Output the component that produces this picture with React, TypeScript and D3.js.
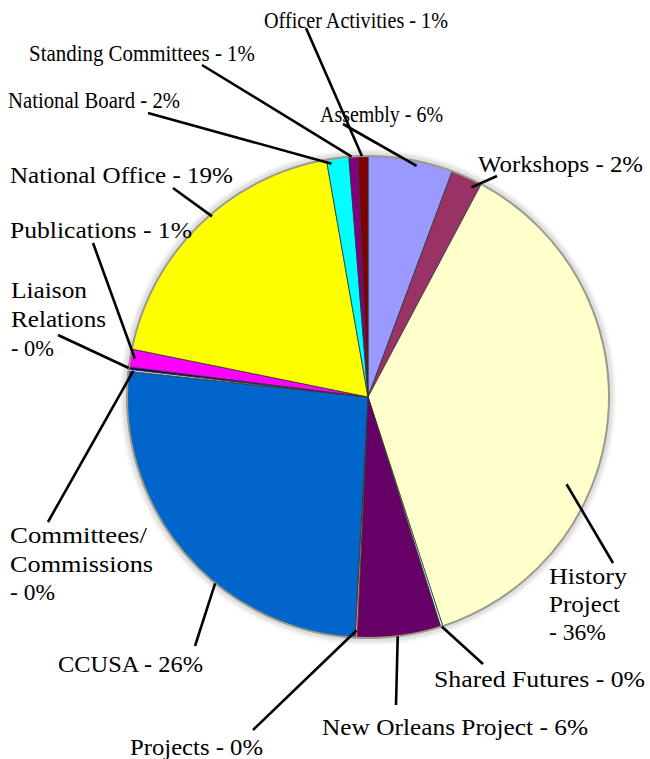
import React from "react";
import * as d3 from "d3";

const categories = [
  "Assembly",
  "Workshops",
  "History Project",
  "Shared Futures",
  "New Orleans Project",
  "Projects",
  "CCUSA",
  "Committees/Commissions",
  "Liaison Relations",
  "Publications",
  "National Office",
  "National Board",
  "Standing Committees",
  "Officer Activities",
];
const values = [5.7, 2.1, 37.3, 0.15, 5.6, 0.15, 25.9, 0.15, 0.15, 1.2, 19.1, 1.5, 0.6, 0.67];
const pctLabels = ["6%", "2%", "36%", "0%", "6%", "0%", "26%", "0%", "0%", "1%", "19%", "2%", "1%", "1%"];
const colors = [
  "#9999FF", "#993366", "#FFFFCC", "#CCFFFF", "#660066", "#FF8080", "#0066CC",
  "#CCCCFF", "#000080", "#FF00FF", "#FFFF00", "#00FFFF", "#800080", "#800000",
];

// label layout: text lines, x, baselines, line widths, leader start, leader end (fraction along slice, radius factor)
const labelLayout = [
  { lines: ["Assembly - 6%"], x: 320, ys: [122], ws: [123], sx: 343, sy: 124, t: 0.58, k: 0.98 },
  { lines: ["Workshops - 2%"], x: 478, ys: [172], ws: [165], sx: 497, sy: 176, t: 0.77, k: 0.97 },
  { lines: ["History", "Project", "- 36%"], x: 549, ys: [584, 612, 640], ws: [78, 71, 57], sx: 613, sy: 563, t: 0.64, k: 0.9 },
  { lines: ["Shared Futures - 0%"], x: 434, ys: [687], ws: [211], sx: 483, sy: 664, t: 0.5, k: 1.0 },
  { lines: ["New Orleans Project - 6%"], x: 322, ys: [735], ws: [266], sx: 396, sy: 705, t: 0.52, k: 1.0 },
  { lines: ["Projects - 0%"], x: 130, ys: [755], ws: [133], sx: 253, sy: 730, t: 0.5, k: 0.97 },
  { lines: ["CCUSA - 26%"], x: 58, ys: [672], ws: [145], sx: 195, sy: 646, t: 0.39, k: 1.0 },
  { lines: ["Committees/", "Commissions", "- 0%"], x: 10, ys: [543, 572, 600], ws: [137, 143, 45], sx: 48, sy: 522, t: 0.5, k: 0.98 },
  { lines: ["Liaison", "Relations", "- 0%"], x: 11, ys: [298, 327, 356], ws: [76, 95, 43], sx: 58, sy: 335, t: 0.5, k: 1.0 },
  { lines: ["Publications - 1%"], x: 10, ys: [238], ws: [182], sx: 93, sy: 243, t: 0.5, k: 0.98 },
  { lines: ["National Office - 19%"], x: 10, ys: [183], ws: [223], sx: 173, sy: 188, t: 0.55, k: 0.99 },
  { lines: ["National Board - 2%"], x: 8, ys: [108], ws: [172], sx: 148, sy: 113, t: 0.2, k: 0.98 },
  { lines: ["Standing Committees - 1%"], x: 29, ys: [61], ws: [226], sx: 202, sy: 65, t: 0.3, k: 1.0 },
  { lines: ["Officer Activities - 1%"], x: 264, ys: [28], ws: [184], sx: 306, sy: 28, t: 0.4, k: 1.0 },
];

const W = 650;
const H = 759;
const cx = 368;
const cy = 397;
const R = 241;
const FONT = "'Liberation Serif'";

export default function App() {
  const data = categories.map((c, i) => ({ name: c, value: values[i], color: colors[i], pct: pctLabels[i] }));
  const pie = d3
    .pie<any>()
    .sort(null)
    .value((d: any) => d.value)
    .startAngle(0)
    .endAngle(2 * Math.PI);
  const arcs = pie(data);
  const arc = d3.arc<any>().innerRadius(0).outerRadius(R);

  return (
    <svg
      width={W}
      height={H}
      style={{ position: "absolute", left: 0, top: 0, background: "#fff" }}
    >
      <defs>
        <filter id="soft" x="-10%" y="-10%" width="120%" height="120%">
          <feGaussianBlur stdDeviation="2" />
        </filter>
      </defs>
      <circle cx={cx} cy={cy} r={R + 2} fill="none" stroke="#ccc" strokeWidth={4} filter="url(#soft)" />
      <g transform={`translate(${cx},${cy})`}>
        {arcs.map((a, i) => (
          <path key={i} d={arc(a) as string} fill={a.data.color} stroke="#333" strokeWidth={0.8} strokeLinejoin="round" />
        ))}
        <circle r={R} fill="none" stroke="#9c9c88" strokeWidth={2} />
      </g>
      {labelLayout.map((l, i) => {
        const a = arcs[i];
        const ang = a.startAngle + l.t * (a.endAngle - a.startAngle);
        const ex = cx + Math.sin(ang) * R * l.k;
        const ey = cy - Math.cos(ang) * R * l.k;
        return (
          <g key={i}>
            <line x1={l.sx} y1={l.sy} x2={ex} y2={ey} stroke="#000" strokeWidth={2.6} />
            {l.lines.map((s, j) => (
              <text
                key={j}
                x={l.x}
                y={l.ys[j]}
                textLength={l.ws[j]}
                lengthAdjust="spacingAndGlyphs"
                style={{ fontFamily: FONT, fontSize: "23px" }}
                fill="#000"
              >
                {s}
              </text>
            ))}
          </g>
        );
      })}
    </svg>
  );
}
